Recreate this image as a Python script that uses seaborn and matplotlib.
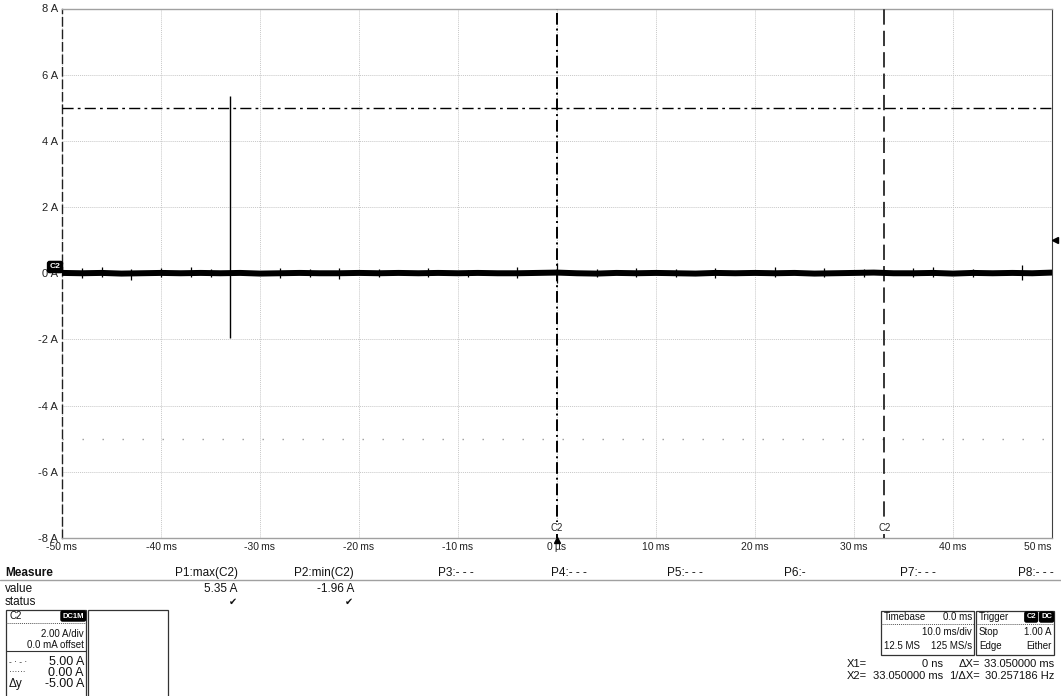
import numpy as np
import pandas as pd
import matplotlib
matplotlib.use("Agg")
import matplotlib.pyplot as plt
import seaborn as sns
from matplotlib.patches import Rectangle
from matplotlib.lines import Line2D

# ── data ─────────────────────────────────────────────────────────────────────
time_ms = np.arange(-50, 51, 2)                      # sample times along the record
current_a = [0.01, 0.00, 0.01, -0.01, 0.00, 0.01, 0.00, 0.01, 0.00, 0.01,
             -0.01, 0.00, 0.01, 0.00, 0.00, 0.01, 0.00, 0.01, 0.00, 0.01,
             0.00, 0.01, 0.00, 0.00, 0.01, 0.02, 0.00, -0.01, 0.01, 0.00,
             0.01, 0.00, -0.01, 0.01, 0.00, 0.01, 0.00, 0.01, -0.01, 0.00,
             0.01, 0.02, 0.00, 0.00, 0.01, -0.01, 0.01, 0.00, 0.01, 0.00, 0.02]

glitch_t = [-48, -46, -43, -40, -37, -35, -28, -25, -22, -18, -13, -9, -4, 0,
            4, 8, 12, 16, 22, 27, 31, 36, 38, 42, 47]
glitch_lo = [-0.15, -0.12, -0.2, -0.1, -0.12, -0.1, -0.15, -0.1, -0.18, -0.1, -0.12, -0.1, -0.15,
             -0.3, -0.1, -0.12, -0.1, -0.15, -0.1, -0.1, -0.12, -0.1, -0.12, -0.1, -0.2]
glitch_hi = [0.15, 0.18, 0.12, 0.15, 0.2, 0.12, 0.15, 0.12, 0.15, 0.12, 0.15, 0.1, 0.2,
             0.3, 0.12, 0.15, 0.12, 0.15, 0.18, 0.15, 0.12, 0.15, 0.2, 0.12, 0.25]

spike_t = -33.0
spike_max = 5.35
spike_min = -1.96

x1_cursor = 0.0
x2_cursor = 33.05
y1_level = 5.00
y2_level = 0.00
dy_level = -5.00
trig_level = 1.00

x_ticks = [-50, -40, -30, -20, -10, 0, 10, 20, 30, 40, 50]
x_labels = ["-50\u2009ms", "-40\u2009ms", "-30\u2009ms", "-20\u2009ms", "-10\u2009ms", "0\u2009\u00b5s",
            "10\u2009ms", "20\u2009ms", "30\u2009ms", "40\u2009ms", "50\u2009ms"]
y_ticks = [8, 6, 4, 2, 0, -2, -4, -6, -8]
y_labels = ["8 A", "6 A", "4 A", "2 A", "0 A", "-2 A", "-4 A", "-6 A", "-8 A"]

meas_heads = ["P1:max(C2)", "P2:min(C2)", "P3:- - -", "P4:- - -", "P5:- - -", "P6:-", "P7:- - -", "P8:- - -"]
meas_right = [238, 354, 474, 587, 703, 806, 936, 1054]
meas_vals = ["5.35 A", "-1.96 A"]

# ── setup ─────────────────────────────────────────────────────────────────────
sns.set_theme(style="white")
plt.rcParams["font.family"] = ["Liberation Sans", "DejaVu Sans"]

W, H = 1061, 696
fig = plt.figure(figsize=(W / 100, H / 100), dpi=100)
ax = fig.add_axes([62 / W, 1 - 538 / H, (1052 - 62) / W, (538 - 8.5) / H])

df = pd.DataFrame({"t": time_ms, "i": current_a})
sns.lineplot(data=df, x="t", y="i", ax=ax, color="black", lw=4.3, zorder=5)
ax.vlines(glitch_t, glitch_lo, glitch_hi, color="black", lw=0.9, zorder=5)
ax.vlines(spike_t, spike_min, spike_max, color="black", lw=1.0, zorder=5)

ax.set_xlim(-50, 50)
ax.set_ylim(-8, 8)
ax.set_xticks(x_ticks)
ax.set_xticklabels(x_labels, fontsize=7.5)
ax.get_xticklabels()[-1].set_horizontalalignment("right")
ax.set_yticks(y_ticks)
ax.set_yticklabels(y_labels, fontsize=8)
ax.tick_params(length=0, pad=3, colors="#222222")
ax.set_xlabel("")
ax.set_ylabel("")
ax.grid(True, color="#c8c8c8", lw=0.7, linestyle=(0, (1, 1)))

for s in ["top", "bottom"]:
    ax.spines[s].set_color("#a0a0a0")
    ax.spines[s].set_linewidth(1.0)
ax.spines["right"].set_color("#404040")
ax.spines["right"].set_linewidth(0.8)
ax.spines["left"].set_color("#202020")
ax.spines["left"].set_linewidth(1.0)
ax.spines["left"].set_linestyle((0, (6, 3)))

# cursors
ax.axhline(y1_level, color="black", lw=1.0, linestyle=(0, (8, 3, 2, 3)), zorder=4)
ax.axhline(dy_level, color="#9a9a9a", lw=1.0, linestyle=(0, (1, 13.4)), zorder=4)
ax.axvline(x1_cursor, color="black", lw=1.4, linestyle=(0, (6, 2, 1, 2)), zorder=4)
ax.axvline(x2_cursor, color="black", lw=1.1, linestyle=(0, (10, 4)), zorder=4)
for xc in [x1_cursor, x2_cursor]:
    ax.text(xc, -7.7, "C2", ha="center", va="center", fontsize=7, zorder=6,
            bbox=dict(fc="white", ec="none", pad=0.5))

# trigger markers
ax.plot([x1_cursor], [-8.05], marker="^", color="black", ms=5, clip_on=False, zorder=7)
ax.plot([50.35], [trig_level], marker="<", color="black", ms=4.5, clip_on=False, zorder=7)
ax.annotate("C2", xy=(-50, 0), xycoords="data", xytext=(-5, 4.5), textcoords="offset points",
            ha="center", va="center", fontsize=6, color="white", fontweight="bold", zorder=8,
            bbox=dict(boxstyle="round,pad=0.25", fc="black", ec="black"), annotation_clip=False)


# ── measurement panel ────────────────────────────────────────────────────────
def ftext(x, y, s, **kw):
    kw.setdefault("va", "center")
    kw.setdefault("fontsize", 8)
    kw.setdefault("color", "#111111")
    fig.text(x / W, 1 - y / H, s, **kw)


def fline(x0, x1, y, **kw):
    fig.add_artist(Line2D([x0 / W, x1 / W], [1 - y / H, 1 - y / H], transform=fig.transFigure, **kw))


def fbox(x0, y0, x1, y1):
    fig.add_artist(Rectangle((x0 / W, 1 - y1 / H), (x1 - x0) / W, (y1 - y0) / H,
                             transform=fig.transFigure, fill=False, ec="#333333", lw=0.9))


ftext(5, 573, "Measure", fontsize=8.5, fontweight="bold")
fline(0, W, 580, color="#a0a0a0", lw=1.0)
ftext(5, 589, "value", fontsize=8.5)
ftext(5, 602, "status", fontsize=8.5)
for head, xr in zip(meas_heads, meas_right):
    ftext(xr, 573, head, ha="right", fontsize=8.5)
for val, xr in zip(meas_vals, meas_right):
    ftext(xr, 589, val, ha="right", fontsize=8.5)
    ftext(xr - 1, 602, "\u2714", ha="right", fontsize=7, family="DejaVu Sans")

# channel box
fbox(6, 610, 86, 700)
fbox(88, 610, 168, 700)
ftext(9, 616, "C2", fontsize=7)
ftext(84, 616, "DC1M", ha="right", fontsize=5.5, color="white", fontweight="bold",
      bbox=dict(boxstyle="round,pad=0.2", fc="black", ec="black"))
fline(6, 86, 623, color="#555555", lw=0.7, linestyle=(0, (1, 1)))
ftext(84, 634, "2.00 A/div", ha="right", fontsize=7)
ftext(84, 645, "0.0 mA offset", ha="right", fontsize=7)
fline(6, 86, 651, color="#333333", lw=0.8)
ftext(9, 662, "- \u00b7 - \u00b7", fontsize=6)
ftext(84, 662, f"{y1_level:.2f} A", ha="right", fontsize=9)
ftext(9, 673, "\u00b7\u00b7\u00b7\u00b7\u00b7\u00b7", fontsize=6)
ftext(84, 673, f"{y2_level:.2f} A", ha="right", fontsize=9)
ftext(9, 684, "\u0394y", fontsize=8.5)
ftext(84, 684, f"{dy_level:.2f} A", ha="right", fontsize=9)

# timebase / trigger boxes
fbox(881, 611, 974, 655)
fbox(976, 611, 1054, 655)
fline(881, 974, 624, color="#555555", lw=0.7, linestyle=(0, (1, 1)))
fline(976, 1054, 624, color="#555555", lw=0.7, linestyle=(0, (1, 1)))
ftext(884, 617, "Timebase", fontsize=7)
ftext(972, 617, "0.0 ms", ha="right", fontsize=7)
ftext(972, 632, "10.0 ms/div", ha="right", fontsize=7)
ftext(884, 646, "12.5 MS", fontsize=7)
ftext(972, 646, "125 MS/s", ha="right", fontsize=7)
ftext(979, 617, "Trigger", fontsize=7)
ftext(1036, 617, "C2", ha="right", fontsize=5.5, color="white", fontweight="bold",
      bbox=dict(boxstyle="round,pad=0.2", fc="black", ec="black"))
ftext(1052, 617, "DC", ha="right", fontsize=5.5, color="white", fontweight="bold",
      bbox=dict(boxstyle="round,pad=0.2", fc="black", ec="black"))
ftext(979, 632, "Stop", fontsize=7)
ftext(1052, 632, f"{trig_level:.2f} A", ha="right", fontsize=7)
ftext(979, 646, "Edge", fontsize=7)
ftext(1052, 646, "Either", ha="right", fontsize=7)

# cursor readout
dx = x2_cursor - x1_cursor
ftext(847, 664, "X1=", fontsize=8)
ftext(943, 664, "0 ns", ha="right", fontsize=8)
ftext(980, 664, "\u0394X=", ha="right", fontsize=8)
ftext(1054, 664, f"{dx:.6f} ms", ha="right", fontsize=8)
ftext(847, 676, "X2=", fontsize=8)
ftext(943, 676, f"{x2_cursor:.6f} ms", ha="right", fontsize=8)
ftext(980, 676, "1/\u0394X=", ha="right", fontsize=8)
ftext(1054, 676, f"{1000 / dx:.6f} Hz", ha="right", fontsize=8)

fig.savefig("out.png", dpi=100)
